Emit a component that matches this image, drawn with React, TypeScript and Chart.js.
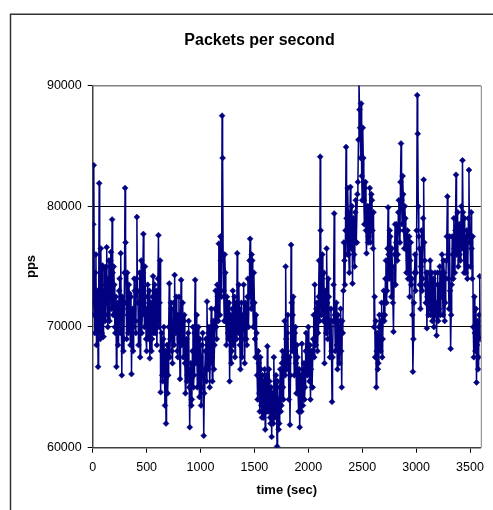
import React, { useEffect, useRef } from 'react';
import { Chart, registerables } from 'chart.js';

Chart.register(...registerables);

const SAMPLE_INTERVAL_SEC = 5;

// packets per second, one value every 5 s
const ppsValues: number[] = [
  71000, 78500, 83400, 72000, 69500, 74500, 76000, 68500, 70200, 73000, 66700, 71500, 81900, 72500, 69000, 76500, 73500, 69500, 75100, 71000,
  69200, 73000, 74800, 70500, 71000, 75000, 76600, 72000, 70000, 74000, 75500, 70500, 72500, 75500, 76200, 71500, 78900, 74500, 71000, 75000,
  73500, 70000, 69500, 72500, 66700, 70000, 72000, 68500, 70500, 73000, 74000, 69500, 76100, 71000, 66000, 72500, 71500, 68000, 69000, 74500,
  81500, 77000, 72000, 69000, 74500, 71000, 69500, 73500, 72800, 70000, 68500, 72500, 66100, 70500, 71500, 68000, 70000, 74000, 73000, 70500,
  69500, 74000, 79100, 73000, 72000, 68500, 70500, 74500, 67500, 72000, 75500, 69500, 71000, 74500, 77700, 72000, 70000, 75000, 72500, 69000,
  68000, 71500, 73500, 69000, 70500, 73000, 67400, 71000, 72000, 68000, 69000, 72500, 74200, 69500, 71000, 73500, 69500, 72000, 73000, 68500,
  70500, 74000, 77600, 70000, 72000, 75500, 64600, 68000, 69500, 66000, 65500, 69000, 70000, 66500, 63500, 68000, 62000, 66000, 68500, 64500,
  66000, 70000, 73600, 67500, 69000, 72000, 71500, 68000, 67000, 70500, 72000, 68500, 74300, 70000, 69500, 72500, 71000, 68000, 67500, 71000,
  72500, 69000, 65700, 70500, 73900, 68500, 70000, 72000, 67500, 70500, 71000, 67000, 64500, 68500, 69000, 65500, 66000, 69500, 70500, 65000,
  61700, 66500, 67000, 63500, 64000, 68000, 70000, 65000, 66000, 69500, 73900, 67000, 68500, 71000, 65000, 68500, 70000, 66000, 64200, 69000,
  67500, 63500, 65000, 68500, 69500, 66000, 61000, 64500, 66500, 68000, 69000, 65500, 72100, 68500, 66500, 69500, 70000, 65000, 67000, 69500,
  71500, 67500, 65500, 69000, 70500, 66500, 68500, 71500, 73000, 70000, 69000, 73500, 72500, 70500, 76900, 73000, 71000, 77500, 75500, 72500,
  87500, 84000, 76000, 73000, 70500, 76000, 74500, 70500, 68500, 72500, 72000, 69500, 69000, 72000, 65500, 69500, 71000, 67000, 68000, 71500,
  73000, 68500, 70000, 72500, 67500, 70000, 72000, 69000, 76100, 72000, 69500, 73500, 71500, 68500, 66500, 70500, 72000, 67500, 69000, 71000,
  73500, 70000, 67000, 72000, 71000, 69000, 68500, 72500, 74000, 70000, 72500, 75500, 77300, 73000, 71500, 76000, 75500, 72000, 70000, 74500,
  72000, 69000, 67500, 71000, 69500, 66000, 64000, 68000, 67000, 64500, 63000, 67500, 66500, 63500, 62500, 66000, 65500, 62500, 63500, 66500,
  61500, 64000, 66000, 63000, 68400, 64500, 63000, 66500, 65500, 62500, 62000, 65000, 60900, 63500, 64500, 62000, 67500, 64500, 62500, 65500,
  66000, 63000, 60100, 65500, 64000, 61500, 62000, 65000, 66500, 63000, 63500, 67000, 68000, 65000, 64000, 67500, 70500, 66000, 75000, 69000,
  66500, 69500, 71000, 67000, 64000, 67500, 61900, 66000, 76800, 72000, 68000, 71000, 72500, 68000, 66000, 69500, 70000, 67000, 64500, 68500,
  67500, 64500, 63000, 66500, 61700, 64500, 66000, 63000, 68600, 65500, 63500, 66500, 67000, 64000, 65000, 68000, 69500, 66500, 66000, 68500,
  70000, 67000, 65500, 68500, 64000, 66500, 68000, 65000, 65000, 69000, 71000, 67500, 73500, 70000, 68500, 71500, 72000, 68000, 69500, 72500,
  75500, 70500, 84100, 78000, 71000, 74000, 76000, 72000, 70500, 74500, 67000, 71500, 73000, 69500, 76500, 72000, 69000, 74000, 72500, 70000,
  67500, 70500, 71500, 68000, 63800, 67500, 70500, 73500, 79400, 71000, 68000, 70500, 72000, 68500, 66500, 71000, 70000, 68500, 67000, 70500,
  71500, 68000, 65000, 70500, 69500, 73000, 77000, 75500, 73500, 78000, 84900, 79000, 76000, 81500, 79500, 76000, 74500, 78500, 81600, 77500,
  76500, 80000, 73600, 77500, 79000, 76000, 75000, 79500, 80500, 77000, 77000, 81000, 82000, 85500, 90500, 88000, 86500, 84000, 88500, 82500,
  80500, 86500, 84000, 80500, 78500, 81500, 82000, 78000, 76100, 79500, 80000, 77000, 77500, 80000, 81500, 77000, 78000, 81000, 80500, 78000,
  76500, 79500, 70000, 72500, 67500, 70500, 65000, 68000, 69500, 66500, 67000, 70000, 71000, 68500, 68000, 70500, 72000, 67500, 69000, 71000,
  73000, 70500, 71000, 74000, 75500, 72000, 73000, 76500, 79900, 76000, 74000, 78000, 77500, 74500, 72500, 76500, 75000, 72000, 69600, 73500,
  76000, 78500, 73500, 77000, 78500, 75500, 76000, 79500, 80500, 78000, 77000, 82000, 85200, 80500, 78500, 82500, 81000, 78000, 76500, 80000,
  79000, 76500, 74500, 77500, 78000, 74000, 75500, 77500, 72500, 75500, 77000, 73500, 74000, 71000, 66300, 69000, 72000, 74500, 76000, 73000,
  74500, 78000, 89200, 86000, 80000, 77500, 76500, 73500, 71500, 75000, 78000, 73000, 74000, 79000, 82200, 77000, 75500, 73500, 72000, 74500,
  69900, 72500, 74500, 71000, 71500, 73500, 75500, 71000, 72000, 74500, 70500, 72500, 74000, 70000, 71000, 74500, 73500, 71000, 69300, 72000,
  74500, 70500, 71500, 73500, 75000, 71000, 72500, 74500, 76000, 73000, 71000, 75500, 74500, 70500, 72000, 74000, 75500, 77500, 80800, 76000,
  74000, 71500, 77500, 73000, 68200, 71000, 73500, 77500, 76000, 74000, 79000, 76500, 74500, 78000, 82600, 76000, 77000, 79500, 75000, 78000,
  78500, 76000, 75500, 78500, 80000, 76500, 83800, 79500, 76500, 74500, 79000, 76500, 74500, 77500, 78000, 74000, 75000, 79000, 83000, 77500,
  77000, 75000, 79500, 76500, 74000, 77500, 70000, 67500, 72500, 69500, 68000, 71500, 65400, 68500, 70500, 66500, 67500, 71000, 74200, 69000,
];

const xTickValues: number[] = [0, 500, 1000, 1500, 2000, 2500, 3000, 3500];
const yTickValues: number[] = [60000, 70000, 80000, 90000];
const X_MIN = 0;
const X_MAX = 3600;
const Y_MIN = 60000;
const Y_MAX = 90000;

const chartTitle = 'Packets per second';
const xAxisTitle = 'time (sec)';
const yAxisTitle = 'pps';

const FONT = '"Liberation Sans", Arial, Helvetica, sans-serif';
const NAVY = '#000080';

const decorPlugin = {
  id: 'decor',
  beforeDatasetsDraw(chart: any) {
    const { ctx, chartArea } = chart;
    ctx.save();
    ctx.strokeStyle = '#808080';
    ctx.lineWidth = 1;
    ctx.beginPath();
    ctx.moveTo(chartArea.left, chartArea.top + 0.5);
    ctx.lineTo(chartArea.right + 0.5, chartArea.top + 0.5);
    ctx.lineTo(chartArea.right + 0.5, chartArea.bottom);
    ctx.stroke();
    ctx.restore();
  },
  afterDraw(chart: any) {
    const { ctx, chartArea } = chart;
    ctx.save();
    ctx.strokeStyle = '#333';
    ctx.lineWidth = 1.5;
    ctx.beginPath();
    ctx.moveTo(10.5, 520);
    ctx.lineTo(10.5, 14.25);
    ctx.lineTo(500, 14.25);
    ctx.stroke();

    ctx.fillStyle = '#000';
    ctx.textAlign = 'center';
    ctx.textBaseline = 'alphabetic';
    ctx.font = `bold 16px ${FONT}`;
    ctx.fillText(chartTitle, 259.5, 45);

    ctx.font = `bold 13px ${FONT}`;
    ctx.fillText(xAxisTitle, (chartArea.left + chartArea.right) / 2, 494);

    ctx.translate(35, 266.5);
    ctx.rotate(-Math.PI / 2);
    ctx.fillText(yAxisTitle, 0, 0);
    ctx.restore();
  },
};

export default function App() {
  const canvasRef = useRef<HTMLCanvasElement | null>(null);

  useEffect(() => {
    if (!canvasRef.current) return;
    const points = ppsValues.map((v, i) => ({ x: i * SAMPLE_INTERVAL_SEC, y: v }));
    const chart = new Chart(canvasRef.current, {
      type: 'line',
      data: {
        datasets: [
          {
            data: points,
            borderColor: NAVY,
            backgroundColor: NAVY,
            borderWidth: 1.5,
            pointStyle: 'rectRot',
            pointRadius: 3,
            pointBorderWidth: 0.5,
            pointBackgroundColor: NAVY,
            pointBorderColor: NAVY,
            tension: 0,
            fill: false,
          },
        ],
      },
      options: {
        responsive: false,
        animation: false,
        events: [],
        layout: { padding: { top: 85.5, right: 12.2, left: 0, bottom: 0 } },
        plugins: {
          legend: { display: false },
          title: { display: false },
          tooltip: { enabled: false },
        },
        scales: {
          x: {
            type: 'linear',
            min: X_MIN,
            max: X_MAX,
            afterBuildTicks: (scale: any) => {
              scale.ticks = xTickValues.map((v) => ({ value: v }));
            },
            afterFit: (scale: any) => {
              scale.height = 62.3;
            },
            ticks: {
              autoSkip: false,
              maxRotation: 0,
              minRotation: 0,
              padding: 7,
              color: '#000',
              font: { family: FONT, size: 12.5 },
              callback: (v: any) => String(v),
            },
            grid: {
              display: true,
              drawOnChartArea: false,
              drawTicks: true,
              tickLength: 5,
              tickColor: '#000',
              color: '#000',
            },
            border: { display: true, color: '#404040', width: 1.5 },
          },
          y: {
            type: 'linear',
            min: Y_MIN,
            max: Y_MAX,
            afterBuildTicks: (scale: any) => {
              scale.ticks = yTickValues.map((v) => ({ value: v }));
            },
            afterFit: (scale: any) => {
              scale.width = 92.7;
            },
            ticks: {
              autoSkip: false,
              padding: 6,
              color: '#000',
              font: { family: FONT, size: 12.5 },
              callback: (v: any) => String(v),
            },
            grid: {
              display: true,
              drawOnChartArea: true,
              drawTicks: true,
              tickLength: 5,
              tickColor: '#000',
              color: (c: any) => (c.tick && c.tick.value === Y_MAX ? '#808080' : c.tick && c.tick.value === Y_MIN ? 'rgba(0,0,0,0)' : '#000'),
              lineWidth: 1,
            },
            border: { display: true, color: '#404040', width: 1.5 },
          },
        },
      },
      plugins: [decorPlugin],
    });
    return () => chart.destroy();
  }, []);

  return (
    <div style={{ position: 'fixed', left: 0, top: 0, width: 493, height: 510, background: '#fff' }}>
      <canvas ref={canvasRef} width={493} height={510} style={{ display: 'block', width: 493, height: 510 }} />
    </div>
  );
}
